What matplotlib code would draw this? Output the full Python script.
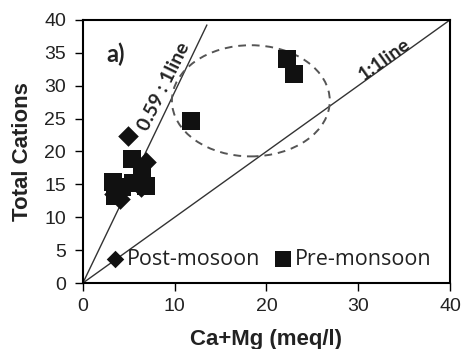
import matplotlib
matplotlib.use("Agg")
import matplotlib.pyplot as plt
from matplotlib.patches import Ellipse

# Data
pre_x = [22.2, 23.0, 11.8, 5.4, 3.3, 3.5, 4.3, 6.4, 6.9, 5.5]
pre_y = [34.0, 31.7, 24.6, 18.8, 15.4, 13.2, 14.6, 16.2, 14.8, 15.2]
post_x = [4.9, 6.9, 3.4, 6.3, 4.0]
post_y = [22.4, 18.4, 13.6, 14.6, 12.7]
ref_11_x = [0, 40]
ref_11_y = [0, 40]
ref_059_x = [0, 13.5]
ref_059_y = [0, 39.2]
xticks = [0, 10, 20, 30, 40]
yticks = [0, 5, 10, 15, 20, 25, 30, 35, 40]

fig = plt.figure(figsize=(4.63, 3.49), dpi=100)
ax = fig.add_axes([0.179, 0.189, 0.793, 0.754])

ax.plot(ref_11_x, ref_11_y, color="#333333", lw=1.0, zorder=2)
ax.plot(ref_059_x, ref_059_y, color="#333333", lw=1.0, zorder=2)

ell = Ellipse((18.3, 27.7), 17.2, 16.9, fill=False, ls=(0, (4, 3)),
              ec="#555555", lw=1.4, zorder=2)
ax.add_patch(ell)

ax.scatter(post_x, post_y, marker="D", s=110, color="#111111", zorder=3,
           label="Post-mosoon", linewidths=0)
ax.scatter(pre_x, pre_y, marker="s", s=180, color="#111111", zorder=4,
           label="Pre-monsoon", linewidths=0)

ax.set_xlim(0, 40)
ax.set_ylim(0, 40)
ax.set_xticks(xticks)
ax.set_yticks(yticks)
for s in ax.spines.values():
    s.set_linewidth(1.5)
    s.set_color("black")
ax.tick_params(direction="out", length=6, width=1, labelsize=14,
               colors="black")
ax.tick_params(axis="y", pad=6)
ax.tick_params(axis="x", pad=5)
for lab in ax.get_xticklabels() + ax.get_yticklabels():
    lab.set_family("Liberation Sans")
    lab.set_color("#222222")

ax.set_xlabel("Ca+Mg (meq/l)", fontsize=16, fontweight="bold",
              family="Liberation Sans", labelpad=10, color="#222222")
ax.set_ylabel("Total Cations", fontsize=16, fontweight="bold",
              family="Liberation Sans", labelpad=8, color="#222222")

ax.text(3.6, 34.7, "a)", fontsize=17, fontweight="bold", family="Lato",
        ha="center", va="center", color="#222222")
ax.text(8.8, 29.8, "0.59 : 1line", fontsize=14, fontweight="bold",
        family="Lato", rotation=64, ha="center", va="center",
        rotation_mode="anchor", color="#222222")
ax.text(32.9, 34.0, "1:1line", fontsize=14, fontweight="bold",
        family="Lato", rotation=35.6, ha="center", va="center",
        rotation_mode="anchor", color="#222222")

leg = ax.legend(loc="lower left", bbox_to_anchor=(0.02, 0.0), ncol=2,
                frameon=False, prop={"family": "Open Sans", "size": 15.5},
                handletextpad=0.0, columnspacing=0.5, handlelength=1.1,
                markerscale=0.85, borderaxespad=0.2)
for t in leg.get_texts():
    t.set_color("#222222")

fig.savefig("out.png", dpi=100)
